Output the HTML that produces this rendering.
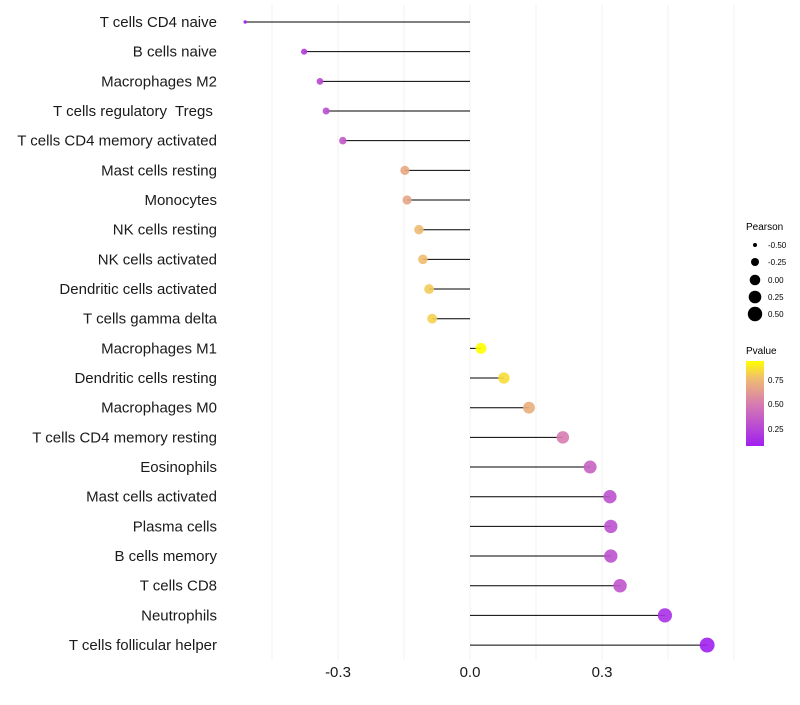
<!DOCTYPE html>
<html><head><meta charset="utf-8"><style>
body{margin:0;background:#fff;font-family:"Liberation Sans",sans-serif}
text{white-space:pre}
</style></head><body>
<svg id="chart" width="800" height="700" xmlns="http://www.w3.org/2000/svg" font-family="Liberation Sans, sans-serif">
<defs><linearGradient id="pg" x1="0" y1="1" x2="0" y2="0">
<stop offset="0" stop-color="rgb(160,32,240)"/><stop offset="0.5" stop-color="rgb(215,125,175)"/><stop offset="0.8" stop-color="rgb(240,190,110)"/><stop offset="1" stop-color="rgb(255,255,0)"/></linearGradient></defs>
<g id="grid"></g><g id="marks"></g><g id="labels"></g><g id="ticks"></g>
<g>
<text x="746" y="230" font-size="10">Pearson</text>
<circle cx="755" cy="245" r="2" fill="#000"/><text x="768" y="248" font-size="8">-0.50</text>
<circle cx="755" cy="262" r="4" fill="#000"/><text x="768" y="265" font-size="8">-0.25</text>
<circle cx="755" cy="280" r="5.3" fill="#000"/><text x="768" y="283" font-size="8">0.00</text>
<circle cx="755" cy="297" r="6.3" fill="#000"/><text x="768" y="300" font-size="8">0.25</text>
<circle cx="755" cy="314" r="7.2" fill="#000"/><text x="768" y="317" font-size="8">0.50</text>
</g>
<g>
<text x="746" y="354" font-size="10">Pvalue</text>
<rect x="746" y="361" width="18" height="85" fill="url(#pg)"/>
<text x="768" y="383" font-size="8">0.75</text>
<text x="768" y="407" font-size="8">0.50</text>
<text x="768" y="432" font-size="8">0.25</text>
</g>
</svg>
<script>
const categories=["T cells CD4 naive","B cells naive","Macrophages M2","T cells regulatory  Tregs ","T cells CD4 memory activated","Mast cells resting","Monocytes","NK cells resting","NK cells activated","Dendritic cells activated","T cells gamma delta","Macrophages M1","Dendritic cells resting","Macrophages M0","T cells CD4 memory resting","Eosinophils","Mast cells activated","Plasma cells","B cells memory","T cells CD8","Neutrophils","T cells follicular helper"];
const pearson=[-0.511,-0.377,-0.341,-0.327,-0.289,-0.148,-0.143,-0.116,-0.107,-0.093,-0.086,0.025,0.077,0.134,0.211,0.273,0.318,0.32,0.32,0.341,0.443,0.539];
const pvalue=[0.05,0.2,0.25,0.28,0.33,0.68,0.67,0.75,0.76,0.8,0.82,0.95,0.85,0.7,0.5,0.38,0.3,0.3,0.3,0.32,0.15,0.07];
const tickValues=[-0.3,0.0,0.3];
const tickLabels=["-0.3","0.0","0.3"];
const NS="http://www.w3.org/2000/svg";
const xs=v=>470+v*440;
const ys=i=>22+i*29.67;
const rs=v=>Math.sqrt(3.5+(v+0.5)*50);
function col(p){const st=[[0,[160,32,240]],[0.5,[215,125,175]],[0.8,[240,190,110]],[1,[255,255,0]]];
 const t=Math.max(0,Math.min(1,(p-0.07)/0.87));
 for(let k=1;k<st.length;k++){if(t<=st[k][0]){const a=st[k-1],b=st[k],f=(t-a[0])/(b[0]-a[0]);return `rgb(${a[1].map((c,j)=>Math.round(c+(b[1][j]-c)*f)).join(',')})`;}}return 'rgb(255,255,0)';}
function mk(tag,at,parent){const e=document.createElementNS(NS,tag);for(const k in at)e.setAttribute(k,at[k]);document.getElementById(parent).appendChild(e);return e;}
[-0.45,-0.3,-0.15,0,0.15,0.3,0.45,0.6].forEach(v=>{const g=mk('line',{x1:xs(v),x2:xs(v),y1:5,y2:660,stroke:'#f2f2f2','stroke-width':1},'grid');

});
categories.forEach((c,i)=>{
 const y=ys(i);
 const l=mk('line',{x1:xs(pearson[i]),x2:xs(0),y1:y,y2:y,stroke:'#000','stroke-width':1},'marks');
 
 
 const p=mk('circle',{cx:xs(pearson[i]),cy:y,r:rs(pearson[i]),fill:col(pvalue[i]),'fill-opacity':0.9},'marks');
 
 
 const t=mk('text',{x:217,y:y+5,'text-anchor':'end','font-size':15,fill:'#1a1a1a'},'labels');
 t.textContent=c;
 
 
});
tickValues.forEach((v,i)=>{const t=mk('text',{x:xs(v),y:677,'text-anchor':'middle','font-size':15,fill:'#1a1a1a'},'ticks');
 t.textContent=tickLabels[i];
 
 });
</script>
</body></html>
